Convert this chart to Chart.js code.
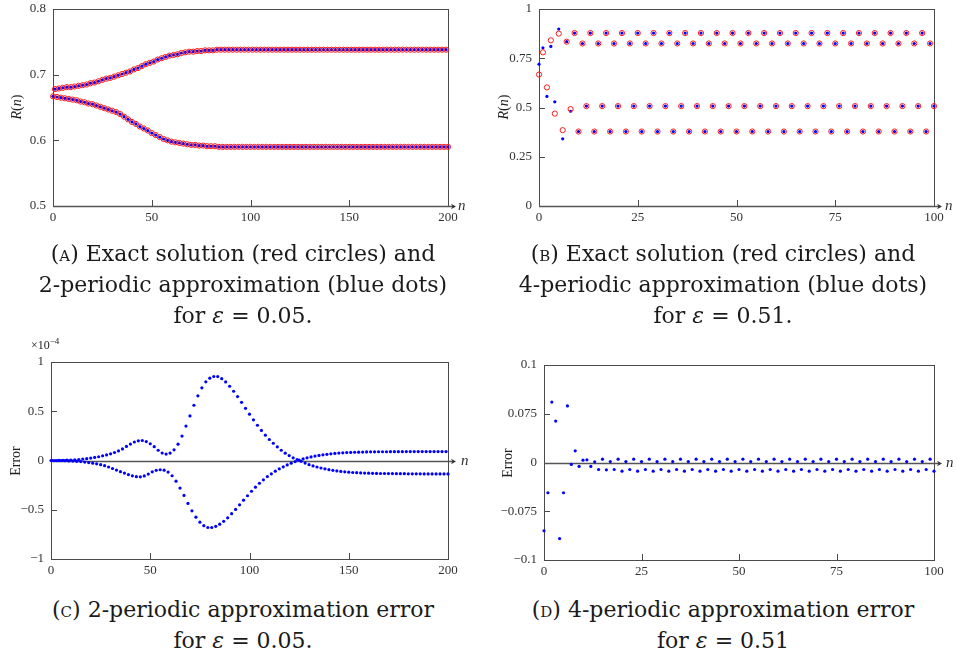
<!DOCTYPE html>
<html>
<head>
<meta charset="utf-8">
<script src="https://cdn.jsdelivr.net/npm/chart.js@4.4.1/dist/chart.umd.min.js"></script>
<style>
  body { margin: 0; background: #fff; }
  #fig { position: relative; width: 957px; height: 656px; font-family: "Liberation Serif", serif; color: #111; }
  canvas { position: absolute; }
  .cap { position: absolute; text-align: center; font-family: "DejaVu Serif", serif; font-size: 22px; line-height: 31px; white-space: nowrap; color: #1a1a1a; }
  .sc { font-variant: small-caps; }
  .lbl { position: absolute; font-size: 14px; color: #222; white-space: nowrap; transform: translate(-50%, -50%) rotate(-90deg); }
  .exp { position: absolute; font-size: 12px; color: #222; }
</style>
</head>
<body>
<div id="fig">
  <canvas id="chartA" width="480" height="230" style="left:0;top:0"></canvas>
  <canvas id="chartB" width="477" height="230" style="left:480px;top:0"></canvas>
  <canvas id="chartC" width="480" height="260" style="left:0;top:330px"></canvas>
  <canvas id="chartD" width="477" height="260" style="left:480px;top:330px"></canvas>

  <div class="lbl" style="left:17px;top:107px"><i>R</i>(<i>n</i>)</div>
  <div class="lbl" style="left:504px;top:107px"><i>R</i>(<i>n</i>)</div>
  <div class="lbl" style="left:16px;top:461px">Error</div>
  <div class="lbl" style="left:508px;top:463px">Error</div>
  <div class="exp" style="left:31px;top:336px">×10<sup style="font-size:9px">−4</sup></div>

  <div class="cap" style="left:0;top:238px;width:486px">(<span class="sc">a</span>) Exact solution (red circles) and<br>2-periodic approximation (blue dots)<br>for <i>ε</i> = 0.05.</div>
  <div class="cap" style="left:484px;top:238px;width:478px">(<span class="sc">b</span>) Exact solution (red circles) and<br>4-periodic approximation (blue dots)<br>for <i>ε</i> = 0.51.</div>
  <div class="cap" style="left:0;top:594px;width:486px">(<span class="sc">c</span>) 2-periodic approximation error<br>for <i>ε</i> = 0.05.</div>
  <div class="cap" style="left:484px;top:594px;width:478px">(<span class="sc">d</span>) 4-periodic approximation error<br>for <i>ε</i> = 0.51</div>
</div>

<script>
// panel A: R(n) for eps = 0.05, even n (lower branch) and odd n (upper branch)
const lowerA = [
    0.667, 0.666, 0.665, 0.664, 0.663, 0.662, 0.661, 0.659, 0.658, 0.656,
    0.655, 0.653, 0.651, 0.649, 0.647, 0.645, 0.643, 0.640, 0.636, 0.632,
    0.628, 0.625, 0.621, 0.618, 0.615, 0.611, 0.608, 0.605, 0.602, 0.600,
    0.598, 0.597, 0.596, 0.595, 0.594, 0.593, 0.593, 0.592, 0.592, 0.591,
    0.591, 0.591, 0.590, 0.590, 0.590, 0.590, 0.590, 0.590, 0.590, 0.590,
    0.590, 0.590, 0.590, 0.590, 0.590, 0.590, 0.590, 0.590, 0.590, 0.590,
    0.590, 0.590, 0.590, 0.590, 0.590, 0.590, 0.590, 0.590, 0.590, 0.590,
    0.590, 0.590, 0.590, 0.590, 0.590, 0.590, 0.590, 0.590, 0.590, 0.590,
    0.590, 0.590, 0.590, 0.590, 0.590, 0.590, 0.590, 0.590, 0.590, 0.590,
    0.590, 0.590, 0.590, 0.590, 0.590, 0.590, 0.590, 0.590, 0.590, 0.590,
    0.590
];
const upperA = [
    0.678, 0.679, 0.680, 0.681, 0.681, 0.682, 0.683, 0.684, 0.685, 0.687,
    0.688, 0.690, 0.692, 0.694, 0.695, 0.697, 0.699, 0.701, 0.703, 0.705,
    0.708, 0.710, 0.713, 0.716, 0.718, 0.720, 0.723, 0.725, 0.727, 0.729,
    0.730, 0.731, 0.733, 0.734, 0.735, 0.735, 0.736, 0.736, 0.737, 0.737,
    0.737, 0.738, 0.738, 0.738, 0.738, 0.738, 0.738, 0.738, 0.738, 0.738,
    0.738, 0.738, 0.738, 0.738, 0.738, 0.738, 0.738, 0.738, 0.738, 0.738,
    0.738, 0.738, 0.738, 0.738, 0.738, 0.738, 0.738, 0.738, 0.738, 0.738,
    0.738, 0.738, 0.738, 0.738, 0.738, 0.738, 0.738, 0.738, 0.738, 0.738,
    0.738, 0.738, 0.738, 0.738, 0.738, 0.738, 0.738, 0.738, 0.738, 0.738,
    0.738, 0.738, 0.738, 0.738, 0.738, 0.738, 0.738, 0.738, 0.738, 0.738
];

// panel B: R(n) for eps = 0.51, n = 0..100
const exactB = [
    0.667, 0.780, 0.602, 0.841, 0.469, 0.875, 0.385, 0.834, 0.492,
    0.878, 0.378, 0.825, 0.507, 0.878, 0.378, 0.825, 0.507, 0.878, 0.378, 0.825, 0.507,
    0.878, 0.378, 0.825, 0.507, 0.878, 0.378, 0.825, 0.507, 0.878, 0.378, 0.825, 0.507,
    0.878, 0.378, 0.825, 0.507, 0.878, 0.378, 0.825, 0.507, 0.878, 0.378, 0.825, 0.507,
    0.878, 0.378, 0.825, 0.507, 0.878, 0.378, 0.825, 0.507, 0.878, 0.378, 0.825, 0.507,
    0.878, 0.378, 0.825, 0.507, 0.878, 0.378, 0.825, 0.507, 0.878, 0.378, 0.825, 0.507,
    0.878, 0.378, 0.825, 0.507, 0.878, 0.378, 0.825, 0.507, 0.878, 0.378, 0.825, 0.507,
    0.878, 0.378, 0.825, 0.507, 0.878, 0.378, 0.825, 0.507, 0.878, 0.378, 0.825, 0.507,
    0.878, 0.378, 0.825, 0.507, 0.878, 0.378, 0.825, 0.507
];
const approxB = [
    0.720, 0.803, 0.556, 0.810, 0.529, 0.898, 0.341, 0.834, 0.481,
    0.878, 0.378, 0.825, 0.507, 0.878, 0.378, 0.825, 0.507, 0.878, 0.378, 0.825, 0.507,
    0.878, 0.378, 0.825, 0.507, 0.878, 0.378, 0.825, 0.507, 0.878, 0.378, 0.825, 0.507,
    0.878, 0.378, 0.825, 0.507, 0.878, 0.378, 0.825, 0.507, 0.878, 0.378, 0.825, 0.507,
    0.878, 0.378, 0.825, 0.507, 0.878, 0.378, 0.825, 0.507, 0.878, 0.378, 0.825, 0.507,
    0.878, 0.378, 0.825, 0.507, 0.878, 0.378, 0.825, 0.507, 0.878, 0.378, 0.825, 0.507,
    0.878, 0.378, 0.825, 0.507, 0.878, 0.378, 0.825, 0.507, 0.878, 0.378, 0.825, 0.507,
    0.878, 0.378, 0.825, 0.507, 0.878, 0.378, 0.825, 0.507, 0.878, 0.378, 0.825, 0.507,
    0.878, 0.378, 0.825, 0.507, 0.878, 0.378, 0.825, 0.507
];

// panel C: error (x 1e-4), even n and odd n
const errEvenC = [
    0.000, 0.000, 0.001, 0.002, 0.003, 0.005, 0.007, 0.010, 0.014, 0.019,
    0.025, 0.031, 0.038, 0.047, 0.057, 0.068, 0.081, 0.097, 0.118, 0.143,
    0.167, 0.188, 0.200, 0.203, 0.192, 0.170, 0.140, 0.104, 0.076, 0.065,
    0.075, 0.108, 0.166, 0.248, 0.349, 0.453, 0.561, 0.657, 0.738, 0.799,
    0.836, 0.853, 0.852, 0.831, 0.798, 0.754, 0.703, 0.649, 0.591, 0.530,
    0.470, 0.413, 0.358, 0.305, 0.257, 0.213, 0.175, 0.139, 0.104, 0.074,
    0.050, 0.027, 0.010, -0.008, -0.026, -0.042, -0.055, -0.066, -0.076, -0.085,
    -0.093, -0.100, -0.106, -0.111, -0.115, -0.119, -0.122, -0.124, -0.126, -0.128,
    -0.129, -0.130, -0.131, -0.132, -0.132, -0.133, -0.133, -0.134, -0.134, -0.134,
    -0.135, -0.135, -0.135, -0.135, -0.136, -0.136, -0.136, -0.136, -0.136, -0.136,
    -0.136
];
const errOddC = [
    0.000, -0.001, -0.001, -0.002, -0.004, -0.006, -0.008, -0.011, -0.016, -0.021,
    -0.027, -0.034, -0.042, -0.053, -0.066, -0.081, -0.097, -0.113, -0.128, -0.143,
    -0.156, -0.164, -0.166, -0.157, -0.138, -0.115, -0.100, -0.094, -0.098, -0.118,
    -0.155, -0.210, -0.280, -0.355, -0.436, -0.511, -0.575, -0.626, -0.662, -0.680,
    -0.680, -0.668, -0.646, -0.618, -0.582, -0.540, -0.497, -0.450, -0.403, -0.358,
    -0.312, -0.271, -0.231, -0.196, -0.163, -0.135, -0.108, -0.085, -0.064, -0.045,
    -0.027, -0.011, 0.003, 0.016, 0.027, 0.036, 0.045, 0.052, 0.058, 0.063,
    0.068, 0.072, 0.075, 0.078, 0.080, 0.082, 0.084, 0.085, 0.086, 0.087,
    0.088, 0.088, 0.089, 0.089, 0.089, 0.090, 0.090, 0.090, 0.090, 0.091,
    0.091, 0.091, 0.091, 0.091, 0.091, 0.091, 0.091, 0.091, 0.091, 0.091
];

// panel D: error, n = 0..100
const errD = [
    -0.070, -0.031, 0.062, 0.0425, -0.078, -0.031, 0.058, -0.002, 0.012, -0.004,   // n 0-9
    0.0024, 0.0027, -0.004, 0.0007, -0.0072, 0.0034, -0.0075, 0.001,               // n 10-17
    -0.0072, 0.0034, -0.0089, 0.001, -0.0072, 0.0034, -0.0089, 0.001,              // n 18-25
    -0.0072, 0.0034, -0.0089, 0.001, -0.0072, 0.0034, -0.0089, 0.001,              // n 26-33
    -0.0072, 0.0034, -0.0089, 0.001, -0.0072, 0.0034, -0.0089, 0.001,              // n 34-41
    -0.0072, 0.0034, -0.0089, 0.001, -0.0072, 0.0034, -0.0089, 0.001,              // n 42-49
    -0.0072, 0.0034, -0.0089, 0.001, -0.0072, 0.0034, -0.0089, 0.001,              // n 50-57
    -0.0072, 0.0034, -0.0089, 0.001, -0.0072, 0.0034, -0.0089, 0.001,              // n 58-65
    -0.0072, 0.0034, -0.0089, 0.001, -0.0072, 0.0034, -0.0089, 0.001,              // n 66-73
    -0.0072, 0.0034, -0.0089, 0.001, -0.0072, 0.0034, -0.0089, 0.001,              // n 74-81
    -0.0072, 0.0034, -0.0089, 0.001, -0.0072, 0.0034, -0.0089, 0.001,              // n 82-89
    -0.0072, 0.0034, -0.0089, 0.001, -0.0072, 0.0034, -0.0089, 0.001,              // n 90-97
    -0.0072, 0.0034, -0.0089                                                       // n 98-100
];

// tick values and labels
const ticksA_x = [0, 50, 100, 150, 200];
const ticksA_y = [0.5, 0.6, 0.7, 0.8];
const ticksB_x = [0, 25, 50, 75, 100];
const ticksB_y = [0, 0.25, 0.5, 0.75, 1];
const ticksC_y = [-1, -0.5, 0, 0.5, 1];
const labelsC_y = ["\u22121", "\u22120.5", "0", "0.5", "1"];
const ticksD_y = [-0.1, -0.05, 0, 0.05, 0.1];
const labelsD_y = ["\u22120.1", "\u22120.075", "0", "0.075", "0.1"];

const toPoints = (vals, start, step) => vals.map((v, i) => ({ x: start + i * step, y: v }));

// box, inward ticks and the arrowed n axis
const frame = {
    id: "frame",
    beforeDatasetsDraw(chart, args, opts) {
        const { ctx, chartArea: a, scales } = chart;
        const x = scales.x, y = scales.y;
        ctx.save();
        ctx.strokeStyle = "#4a4a4a";
        ctx.lineWidth = 1;
        ctx.strokeRect(a.left + 0.5, a.top + 0.5, a.right - a.left, a.bottom - a.top);
        ctx.beginPath();
        y.ticks.forEach((t) => {
            const py = Math.round(y.getPixelForValue(t.value)) + 0.5;
            ctx.moveTo(a.left, py);
            ctx.lineTo(a.left + 6, py);
        });
        x.ticks.forEach((t) => {
            const px = Math.round(x.getPixelForValue(t.value)) + 0.5;
            ctx.moveTo(px, a.bottom);
            ctx.lineTo(px, a.bottom - 6);
        });
        ctx.stroke();

        const ay = Math.round(y.getPixelForValue(opts.axisAt)) + 0.5;
        ctx.strokeStyle = "#555";
        ctx.lineWidth = 1.4;
        ctx.beginPath();
        ctx.moveTo(a.left, ay);
        ctx.lineTo(a.right + 5, ay);
        ctx.stroke();
        ctx.fillStyle = "#333";
        ctx.beginPath();
        ctx.moveTo(a.right + 8, ay);
        ctx.lineTo(a.right + 3, ay - 2.8);
        ctx.lineTo(a.right + 4.5, ay);
        ctx.lineTo(a.right + 3, ay + 2.8);
        ctx.closePath();
        ctx.fill();
        ctx.font = "italic 15px 'Liberation Serif', serif";
        ctx.textBaseline = "middle";
        ctx.fillText("n", a.right + opts.nGap, ay);
        ctx.restore();
    },
};

const tickFont = { family: "'Liberation Serif', serif", size: 13 };

const makeChart = (id, cfg) => {
    let ctx = document.getElementById(id).getContext("2d");
    return new Chart(ctx, {
        type: "scatter",
        data: { datasets: cfg.datasets },
        options: {
            responsive: false,
            animation: false,
            layout: { padding: { left: 0, top: cfg.top, right: cfg.right, bottom: 0 } },
            plugins: {
                legend: { display: false },
                tooltip: { enabled: false },
                frame: { axisAt: cfg.axisAt, nGap: cfg.nGap },
            },
            scales: {
                x: {
                    type: "linear",
                    min: cfg.xTicks[0],
                    max: cfg.xTicks[cfg.xTicks.length - 1],
                    afterBuildTicks: (s) => { s.ticks = cfg.xTicks.map((v) => ({ value: v })); },
                    afterFit: (s) => { s.height = cfg.xHeight; s.paddingLeft = 0; s.paddingRight = 0; },
                    grid: { display: false, drawTicks: false },
                    border: { display: false },
                    ticks: { padding: 4, font: tickFont, color: "#333", maxRotation: 0, autoSkip: false,
                        callback: (v) => String(v) },
                },
                y: {
                    type: "linear",
                    min: cfg.yTicks[0],
                    max: cfg.yTicks[cfg.yTicks.length - 1],
                    afterBuildTicks: (s) => { s.ticks = cfg.yTicks.map((v) => ({ value: v })); },
                    afterFit: (s) => { s.width = cfg.yWidth; s.paddingTop = 0; s.paddingBottom = 0; },
                    grid: { display: false, drawTicks: false },
                    border: { display: false },
                    ticks: { padding: 7, font: tickFont, color: "#333", autoSkip: false,
                        callback: (v, i) => (cfg.yLabels ? cfg.yLabels[i] : String(v)) },
                },
            },
        },
        plugins: [frame],
    });
};

const redCircles = (pts) => ({
    data: pts, showLine: false, clip: false,
    pointRadius: 2.6, pointBorderWidth: 1,
    pointBorderColor: "#ff1a1a", pointBackgroundColor: "rgba(255,255,255,0)",
});
const blueDots = (pts) => ({
    data: pts, showLine: false, clip: false,
    pointRadius: 1.6, pointBorderWidth: 0,
    pointBorderColor: "#0000ff", pointBackgroundColor: "#0000ff",
});

makeChart("chartA", {
    datasets: [
        redCircles(toPoints(lowerA, 0, 2)), redCircles(toPoints(upperA, 1, 2)),
        blueDots(toPoints(lowerA, 0, 2)), blueDots(toPoints(upperA, 1, 2)),
    ],
    xTicks: ticksA_x, yTicks: ticksA_y,
    top: 9, right: 32, xHeight: 24, yWidth: 53, axisAt: 0.5, nGap: 10,
});

makeChart("chartB", {
    datasets: [redCircles(toPoints(exactB, 0, 1)), blueDots(toPoints(approxB, 0, 1))],
    xTicks: ticksB_x, yTicks: ticksB_y,
    top: 9, right: 23, xHeight: 24, yWidth: 59, axisAt: 0, nGap: 11,
});

makeChart("chartC", {
    datasets: [blueDots(toPoints(errEvenC, 0, 2)), blueDots(toPoints(errOddC, 1, 2))],
    xTicks: ticksA_x, yTicks: ticksC_y, yLabels: labelsC_y,
    top: 32, right: 32, xHeight: 31, yWidth: 51, axisAt: 0, nGap: 13,
});

makeChart("chartD", {
    datasets: [blueDots(toPoints(errD, 0, 1))],
    xTicks: ticksB_x, yTicks: ticksD_y, yLabels: labelsD_y,
    top: 35, right: 23, xHeight: 30, yWidth: 64, axisAt: 0, nGap: 12,
});
</script>
</body>
</html>
